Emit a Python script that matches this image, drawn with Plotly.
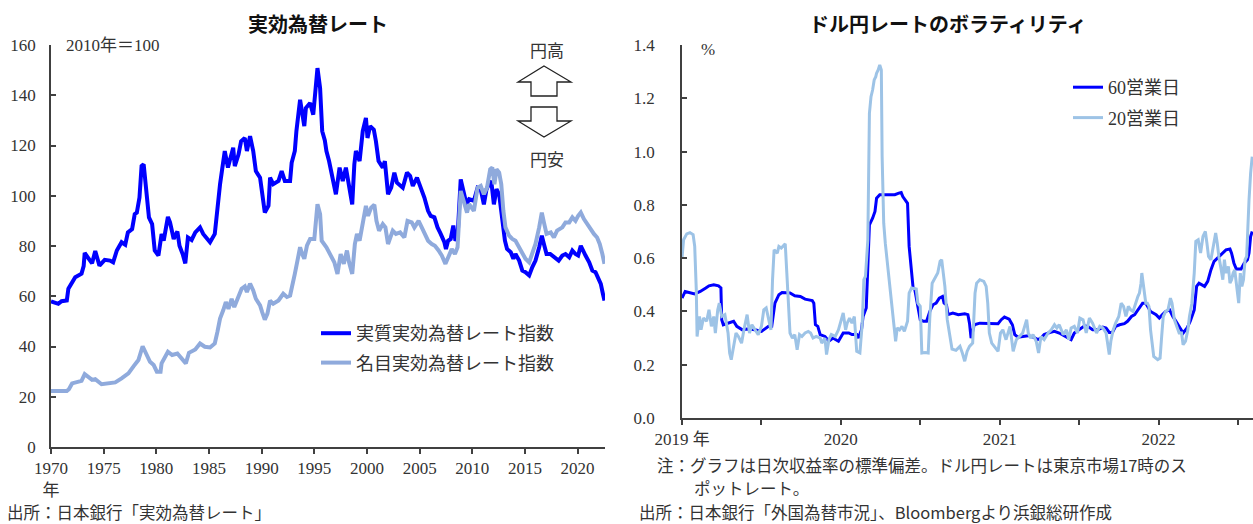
import plotly.graph_objects as go

# ---- 実効為替レート (2010年=100), dates as decimal years ----
reer_year = [1970.0, 1970.4, 1970.7, 1971.0, 1971.5, 1971.65, 1972.0, 1972.3, 1972.9, 1973.1,
             1973.2, 1973.55, 1973.9, 1974.2, 1974.6, 1975.1, 1975.6, 1975.9, 1976.25, 1976.7,
             1977.05, 1977.3, 1977.7, 1977.95, 1978.15, 1978.4, 1978.6, 1978.8, 1979.0, 1979.3,
             1979.6, 1979.85, 1980.2, 1980.5, 1980.7, 1981.1, 1981.3, 1981.65, 1982.0, 1982.2,
             1982.5, 1982.75, 1983.0, 1983.35, 1983.7, 1984.15, 1984.45, 1984.8, 1985.1, 1985.55,
             1985.8, 1986.05, 1986.25, 1986.5, 1986.8, 1987.1, 1987.3, 1987.45, 1987.8, 1988.05,
             1988.4, 1988.6, 1988.9, 1989.2, 1989.45, 1989.85, 1990.05, 1990.3, 1990.65, 1990.8,
             1991.1, 1991.6, 1991.9, 1992.2, 1992.7, 1992.85, 1993.15, 1993.3, 1993.65, 1993.85,
             1994.05, 1994.2, 1994.6, 1994.9, 1995.1, 1995.3, 1995.55, 1995.75, 1996.0, 1996.15,
             1996.4, 1996.75, 1997.05, 1997.4, 1997.7, 1998.0, 1998.3, 1998.6, 1998.8, 1998.95,
             1999.3, 1999.6, 1999.9, 2000.05, 2000.3, 2000.65, 2000.85, 2001.1, 2001.5, 2001.7,
             2002.0, 2002.3, 2002.6, 2002.85, 2003.4, 2003.8, 2004.1, 2004.35, 2004.75, 2005.1,
             2005.45, 2005.8, 2006.05, 2006.4, 2006.7, 2007.0, 2007.35, 2007.5, 2007.7, 2007.95,
             2008.2, 2008.4, 2008.6, 2008.9, 2009.2, 2009.45, 2009.7, 2010.15, 2010.5, 2010.8,
             2011.1, 2011.35, 2011.6, 2011.8, 2012.05, 2012.3, 2012.55, 2012.75, 2012.95, 2013.1,
             2013.3, 2013.65, 2013.9, 2014.1, 2014.45, 2014.75, 2015.05, 2015.4, 2015.7, 2016.0,
             2016.35, 2016.6, 2016.8, 2017.05, 2017.4, 2017.75, 2018.2, 2018.55, 2018.85, 2019.2,
             2019.5, 2019.8, 2020.05, 2020.3, 2020.55, 2020.75, 2021.1, 2021.4, 2021.7, 2021.95,
             2022.2, 2022.4, 2022.55]
reer_real = [58.0, 57.5, 57.0, 58.0, 58.3, 63.0, 65.6, 67.6, 69.0, 72.0,
             77.2, 74.9, 73.1, 78.0, 72.2, 74.5, 74.2, 73.5, 78.2, 81.5,
             80.5, 85.4, 86.7, 92.7, 93.3, 99.3, 111.8, 112.5, 104.6, 91.4,
             88.7, 78.2, 76.2, 84.8, 82.1, 91.6, 89.4, 82.8, 85.8, 80.1,
             76.8, 73.1, 83.4, 82.4, 85.4, 87.4, 84.8, 82.8, 81.5, 84.8,
             96.0, 104.6, 110.5, 117.8, 111.2, 115.8, 119.1, 111.8, 116.4, 121.7,
             123.0, 117.8, 123.7, 117.8, 109.8, 107.2, 100.6, 93.3, 96.0, 107.2,
             104.6, 105.9, 109.8, 105.9, 105.9, 113.1, 117.8, 125.7, 138.2, 132.3,
             127.7, 134.9, 136.9, 132.3, 142.8, 150.8, 142.8, 125.7, 122.0, 117.8,
             113.8, 107.2, 100.6, 111.2, 105.9, 111.2, 104.6, 96.6, 112.5, 117.8,
             113.8, 125.7, 131.0, 123.0, 127.7, 126.3, 121.7, 113.8, 111.2, 113.8,
             100.6, 103.2, 109.2, 105.2, 103.2, 109.2, 107.9, 103.9, 107.2, 103.2,
             99.3, 94.0, 92.0, 91.4, 87.4, 84.8, 81.5, 78.8, 82.1, 82.8,
             88.1, 82.1, 83.4, 106.5, 101.0, 96.6, 98.6, 98.0, 103.2, 102.6,
             96.6, 102.6, 104.6, 105.9, 96.6, 102.6, 100.6, 94.0, 88.1, 82.1,
             78.8, 77.5, 74.9, 76.8, 74.2, 70.2, 69.6, 68.3, 71.6, 74.2,
             79.5, 84.1, 80.8, 76.8, 76.8, 75.5, 74.2, 76.2, 76.8, 75.5,
             78.2, 76.8, 76.2, 80.1, 77.5, 76.2, 73.5, 70.2, 69.6, 67.6,
             64.9, 61.0, 58.3]

neer_year = [1970.0, 1971.5, 1971.7, 1972.0, 1972.9, 1973.2, 1973.9, 1974.2, 1974.8, 1975.8,
             1976.1, 1976.7, 1977.35, 1977.85, 1978.3, 1978.7, 1978.95, 1979.4, 1979.75, 1980.05,
             1980.4, 1980.5, 1981.1, 1981.5, 1982.0, 1982.3, 1982.8, 1983.1, 1983.7, 1984.15,
             1984.6, 1985.1, 1985.55, 1985.8, 1986.05, 1986.35, 1986.6, 1986.85, 1987.15, 1987.4,
             1987.8, 1988.1, 1988.4, 1988.6, 1988.9, 1989.2, 1989.45, 1989.85, 1990.05, 1990.3,
             1990.55, 1990.8, 1991.1, 1991.6, 1992.05, 1992.4, 1992.7, 1992.9, 1993.15, 1993.4,
             1993.65, 1993.85, 1994.05, 1994.3, 1994.6, 1995.0, 1995.3, 1995.55, 1995.7, 1996.15,
             1996.5, 1996.9, 1997.2, 1997.5, 1997.8, 1998.1, 1998.3, 1998.6, 1998.85, 1999.05,
             1999.3, 1999.7, 1999.9, 2000.1, 2000.4, 2000.7, 2000.9, 2001.15, 2001.5, 2001.75,
             2002.0, 2002.45, 2002.75, 2003.15, 2003.55, 2003.85, 2004.25, 2004.5, 2004.9, 2005.2,
             2005.5, 2005.8, 2006.15, 2006.45, 2006.8, 2007.1, 2007.45, 2007.7, 2008.05, 2008.35,
             2008.6, 2008.9, 2009.2, 2009.5, 2009.7, 2010.15, 2010.5, 2010.8, 2011.1, 2011.4,
             2011.7, 2011.9, 2012.1, 2012.3, 2012.55, 2012.75, 2012.95, 2013.15, 2013.5, 2013.8,
             2014.1, 2014.45, 2014.75, 2015.05, 2015.4, 2015.7, 2016.0, 2016.35, 2016.6, 2016.8,
             2017.05, 2017.45, 2017.75, 2018.05, 2018.55, 2018.85, 2019.2, 2019.5, 2019.8, 2020.05,
             2020.3, 2020.6, 2020.9, 2021.25, 2021.55, 2021.85, 2022.1, 2022.35, 2022.55]
reer_nominal = [22.3, 22.3, 23.0, 25.3, 26.3, 29.0, 26.7, 27.0, 25.0, 25.3,
                25.7, 27.3, 29.3, 32.2, 34.6, 40.1, 37.9, 33.9, 32.6, 30.0,
                30.0, 33.3, 37.9, 36.6, 37.2, 35.9, 33.3, 37.5, 38.8, 41.2,
                39.9, 39.6, 41.2, 45.8, 51.1, 54.4, 57.7, 55.0, 59.0, 55.7,
                59.7, 63.0, 63.9, 61.7, 65.0, 62.3, 59.0, 56.4, 53.7, 50.7,
                53.1, 58.3, 57.0, 58.3, 61.0, 59.7, 60.3, 65.0, 68.9, 74.2,
                79.5, 76.8, 74.9, 80.1, 82.8, 82.8, 96.6, 92.7, 82.1, 79.5,
                76.8, 73.5, 68.9, 76.8, 72.9, 78.2, 73.5, 68.9, 80.8, 84.8,
                82.1, 91.4, 96.0, 92.0, 95.3, 96.4, 90.0, 86.1, 88.7, 87.4,
                80.8, 86.1, 84.8, 85.4, 83.4, 90.0, 89.4, 87.4, 90.0, 87.4,
                84.8, 82.1, 80.8, 80.1, 78.2, 76.2, 72.9, 75.5, 78.8, 76.8,
                79.5, 101.9, 98.0, 93.3, 96.6, 94.0, 103.2, 103.9, 100.6, 103.2,
                110.5, 111.2, 104.6, 110.5, 109.2, 104.6, 94.0, 87.4, 84.1, 82.8,
                82.1, 79.5, 76.8, 74.9, 73.5, 76.8, 80.8, 87.4, 93.3, 89.4,
                84.8, 85.4, 83.4, 86.1, 87.4, 89.4, 89.4, 91.4, 90.0, 92.0,
                93.3, 90.7, 88.7, 86.1, 84.8, 83.4, 80.8, 76.8, 72.9]

# ---- ドル円ボラティリティ (%), dates as decimal years ----
vol60_date = [2019.0, 2019.02, 2019.08, 2019.115, 2019.15, 2019.17, 2019.2, 2019.23, 2019.245, 2019.25,
              2019.26, 2019.29, 2019.325, 2019.345, 2019.38, 2019.41, 2019.46, 2019.5, 2019.545, 2019.565,
              2019.585, 2019.61, 2019.63, 2019.68, 2019.71, 2019.745, 2019.775, 2019.82, 2019.83, 2019.84,
              2019.855, 2019.87, 2019.9, 2019.925, 2019.95, 2019.985, 2020.015, 2020.05, 2020.07, 2020.1,
              2020.11, 2020.13, 2020.14, 2020.16, 2020.17, 2020.18, 2020.2, 2020.215, 2020.225, 2020.245,
              2020.3, 2020.34, 2020.365, 2020.38, 2020.39, 2020.41, 2020.42, 2020.43, 2020.445, 2020.455,
              2020.465, 2020.485, 2020.5, 2020.52, 2020.54, 2020.56, 2020.58, 2020.6, 2020.62, 2020.64,
              2020.65, 2020.665, 2020.675, 2020.705, 2020.74, 2020.78, 2020.8, 2020.81, 2020.82, 2020.83,
              2020.84, 2020.875, 2020.92, 2020.96, 2020.99, 2021.01, 2021.03, 2021.06, 2021.08, 2021.095,
              2021.115, 2021.145, 2021.18, 2021.21, 2021.24, 2021.26, 2021.28, 2021.315, 2021.345, 2021.375,
              2021.42, 2021.45, 2021.47, 2021.5, 2021.535, 2021.555, 2021.585, 2021.62, 2021.65, 2021.67,
              2021.69, 2021.71, 2021.73, 2021.755, 2021.785, 2021.805, 2021.83, 2021.85, 2021.88, 2021.9,
              2021.92, 2021.93, 2021.95, 2021.985, 2022.005, 2022.025, 2022.045, 2022.07, 2022.09, 2022.11,
              2022.13, 2022.155, 2022.18, 2022.2, 2022.225, 2022.24, 2022.255, 2022.29, 2022.31, 2022.33,
              2022.35, 2022.38, 2022.4, 2022.425, 2022.45, 2022.46, 2022.475, 2022.49, 2022.52, 2022.54,
              2022.56, 2022.57, 2022.58, 2022.59]
vol60 = [0.45, 0.475, 0.466, 0.475, 0.488, 0.496, 0.50, 0.496, 0.488, 0.369,
         0.35, 0.356, 0.363, 0.344, 0.331, 0.334, 0.331, 0.325, 0.344, 0.344,
         0.431, 0.463, 0.471, 0.469, 0.459, 0.456, 0.446, 0.441, 0.431, 0.35,
         0.344, 0.313, 0.306, 0.288, 0.30, 0.288, 0.319, 0.319, 0.313, 0.313,
         0.30, 0.331, 0.381, 0.413, 0.544, 0.725, 0.75, 0.775, 0.825, 0.838,
         0.838, 0.838, 0.844, 0.846, 0.831, 0.813, 0.806, 0.644, 0.544, 0.488,
         0.484, 0.419, 0.369, 0.363, 0.363, 0.40, 0.425, 0.431, 0.45, 0.456,
         0.431, 0.425, 0.388, 0.394, 0.388, 0.391, 0.388, 0.356, 0.30, 0.325,
         0.35, 0.356, 0.356, 0.354, 0.354, 0.369, 0.379, 0.371, 0.35, 0.313,
         0.303, 0.306, 0.309, 0.304, 0.294, 0.30, 0.313, 0.321, 0.325, 0.319,
         0.304, 0.294, 0.319, 0.331, 0.346, 0.344, 0.331, 0.331, 0.341, 0.338,
         0.321, 0.321, 0.344, 0.35, 0.354, 0.363, 0.381, 0.388, 0.413, 0.431,
         0.431, 0.419, 0.40, 0.388, 0.375, 0.388, 0.40, 0.406, 0.381, 0.363,
         0.344, 0.319, 0.338, 0.363, 0.406, 0.494, 0.506, 0.494, 0.513, 0.556,
         0.588, 0.606, 0.619, 0.631, 0.634, 0.619, 0.581, 0.559, 0.559, 0.581,
         0.594, 0.619, 0.681, 0.70]

vol20_date = [2019.0, 2019.01, 2019.03, 2019.05, 2019.07, 2019.08, 2019.09, 2019.095, 2019.11, 2019.12,
              2019.135, 2019.155, 2019.17, 2019.185, 2019.2, 2019.21, 2019.225, 2019.235, 2019.25, 2019.27,
              2019.29, 2019.3, 2019.31, 2019.325, 2019.34, 2019.355, 2019.375, 2019.39, 2019.41, 2019.425,
              2019.44, 2019.46, 2019.48, 2019.5, 2019.515, 2019.53, 2019.545, 2019.56, 2019.57, 2019.58,
              2019.6, 2019.61, 2019.625, 2019.64, 2019.65, 2019.66, 2019.67, 2019.68, 2019.695, 2019.71,
              2019.725, 2019.74, 2019.755, 2019.775, 2019.795, 2019.81, 2019.825, 2019.845, 2019.87, 2019.88,
              2019.9, 2019.91, 2019.925, 2019.94, 2019.965, 2019.985, 2020.0, 2020.015, 2020.03, 2020.04,
              2020.055, 2020.07, 2020.085, 2020.1, 2020.12, 2020.135, 2020.145, 2020.155, 2020.17, 2020.175,
              2020.18, 2020.19, 2020.2, 2020.21, 2020.22, 2020.225, 2020.235, 2020.245, 2020.255, 2020.26,
              2020.265, 2020.27, 2020.28, 2020.3, 2020.315, 2020.33, 2020.345, 2020.355, 2020.37, 2020.385,
              2020.4, 2020.42, 2020.43, 2020.445, 2020.475, 2020.485, 2020.5, 2020.51, 2020.53, 2020.55,
              2020.56, 2020.575, 2020.59, 2020.61, 2020.625, 2020.635, 2020.645, 2020.655, 2020.67, 2020.685,
              2020.7, 2020.725, 2020.75, 2020.765, 2020.78, 2020.795, 2020.81, 2020.83, 2020.845, 2020.855,
              2020.875, 2020.9, 2020.915, 2020.925, 2020.935, 2020.95, 2020.97, 2020.99, 2021.005, 2021.02,
              2021.04, 2021.065, 2021.085, 2021.105, 2021.125, 2021.145, 2021.17, 2021.18, 2021.195, 2021.21,
              2021.23, 2021.245, 2021.26, 2021.28, 2021.305, 2021.325, 2021.345, 2021.36, 2021.375, 2021.4,
              2021.42, 2021.435, 2021.45, 2021.47, 2021.49, 2021.505, 2021.525, 2021.545, 2021.565, 2021.585,
              2021.61, 2021.63, 2021.65, 2021.67, 2021.69, 2021.7, 2021.715, 2021.73, 2021.75, 2021.765,
              2021.78, 2021.795, 2021.81, 2021.825, 2021.84, 2021.855, 2021.87, 2021.88, 2021.89, 2021.895,
              2021.905, 2021.92, 2021.93, 2021.94, 2021.95, 2021.96, 2021.97, 2021.995, 2022.01, 2022.02,
              2022.03, 2022.045, 2022.06, 2022.075, 2022.085, 2022.1, 2022.115, 2022.13, 2022.145, 2022.155,
              2022.17, 2022.185, 2022.195, 2022.21, 2022.225, 2022.235, 2022.25, 2022.265, 2022.28, 2022.295,
              2022.305, 2022.315, 2022.33, 2022.345, 2022.36, 2022.37, 2022.38, 2022.395, 2022.405, 2022.415,
              2022.425, 2022.44, 2022.45, 2022.46, 2022.47, 2022.48, 2022.495, 2022.505, 2022.515, 2022.525,
              2022.535, 2022.545, 2022.555, 2022.565, 2022.57, 2022.58, 2022.59]
vol20 = [0.60, 0.669, 0.691, 0.696, 0.688, 0.644, 0.481, 0.306, 0.381, 0.331,
         0.375, 0.363, 0.406, 0.344, 0.381, 0.319, 0.406, 0.431, 0.381, 0.388,
         0.319, 0.244, 0.219, 0.263, 0.319, 0.306, 0.281, 0.331, 0.388, 0.319,
         0.35, 0.331, 0.313, 0.344, 0.406, 0.413, 0.375, 0.331, 0.519, 0.631,
         0.619, 0.644, 0.638, 0.65, 0.654, 0.544, 0.431, 0.319, 0.30, 0.313,
         0.256, 0.313, 0.306, 0.319, 0.325, 0.319, 0.30, 0.306, 0.30, 0.281,
         0.30, 0.238, 0.294, 0.313, 0.306, 0.331, 0.363, 0.394, 0.331, 0.356,
         0.375, 0.356, 0.381, 0.25, 0.244, 0.356, 0.519, 0.531, 0.669, 0.856,
         1.144, 1.206, 1.231, 1.269, 1.281, 1.294, 1.306, 1.325, 1.306, 0.981,
         0.869, 0.731, 0.656, 0.544, 0.444, 0.381, 0.288, 0.338, 0.331, 0.344,
         0.325, 0.363, 0.469, 0.488, 0.484, 0.431, 0.419, 0.244, 0.246, 0.244,
         0.375, 0.506, 0.525, 0.544, 0.588, 0.594, 0.544, 0.494, 0.369, 0.319,
         0.259, 0.254, 0.269, 0.244, 0.213, 0.25, 0.269, 0.281, 0.469, 0.506,
         0.519, 0.513, 0.494, 0.431, 0.319, 0.281, 0.263, 0.25, 0.319, 0.331,
         0.294, 0.344, 0.25, 0.294, 0.306, 0.319, 0.369, 0.319, 0.30, 0.313,
         0.288, 0.244, 0.306, 0.294, 0.319, 0.331, 0.35, 0.338, 0.35, 0.313,
         0.331, 0.294, 0.338, 0.344, 0.319, 0.375, 0.369, 0.319, 0.375, 0.356,
         0.319, 0.344, 0.338, 0.319, 0.238, 0.288, 0.331, 0.356, 0.381, 0.431,
         0.419, 0.381, 0.419, 0.406, 0.40, 0.431, 0.456, 0.469, 0.506, 0.544,
         0.494, 0.431, 0.431, 0.419, 0.331, 0.269, 0.231, 0.219, 0.225, 0.306,
         0.381, 0.40, 0.406, 0.45, 0.431, 0.369, 0.344, 0.319, 0.319, 0.275,
         0.288, 0.331, 0.381, 0.431, 0.544, 0.663, 0.669, 0.619, 0.681, 0.70,
         0.656, 0.606, 0.594, 0.644, 0.694, 0.656, 0.606, 0.556, 0.519, 0.594,
         0.544, 0.569, 0.506, 0.519, 0.544, 0.556, 0.469, 0.431, 0.544, 0.494,
         0.519, 0.594, 0.606, 0.769, 0.819, 0.919, 0.981]

# ---- axis ticks ----
left_xtick_vals = [1970, 1975, 1980, 1985, 1990, 1995, 2000, 2005, 2010, 2015, 2020]
left_xtick_text = ["1970<br>年", "1975", "1980", "1985", "1990", "1995", "2000",
                   "2005", "2010", "2015", "2020"]
right_xtick_vals = [2019, 2019.5, 2020, 2020.5, 2021, 2021.5, 2022, 2022.5]
right_xtick_text = ["2019 年", "", "2020", "", "2021", "", "2022", ""]
right_ytick_vals = [0.0, 0.2, 0.4, 0.6, 0.8, 1.0, 1.2, 1.4]
right_ytick_text = ["0.0", "0.2", "0.4", "0.6", "0.8", "1.0", "1.2", "1.4"]

W, H = 1253, 524
AXIS = "#404040"
TXT = "#333333"
SERIF = "Liberation Serif, Noto Sans CJK JP"
JP = "Noto Sans CJK JP"


def px(x):
    return x / W


def py(y):
    return 1 - y / H


fig = go.Figure()

fig.add_trace(go.Scatter(x=reer_year, y=reer_real, mode="lines", name="実質実効為替レート指数",
                         line=dict(color="#0000FF", width=4), xaxis="x", yaxis="y",
                         legend="legend", legendgroup="a"))
fig.add_trace(go.Scatter(x=neer_year, y=reer_nominal, mode="lines", name="名目実効為替レート指数",
                         line=dict(color="#8FAADC", width=4), xaxis="x", yaxis="y",
                         legend="legend", legendgroup="b"))
fig.add_trace(go.Scatter(x=vol60_date, y=vol60, mode="lines", name="60営業日",
                         line=dict(color="#0000FF", width=3), xaxis="x2", yaxis="y2",
                         legend="legend2", legendgroup="c"))
fig.add_trace(go.Scatter(x=vol20_date, y=vol20, mode="lines", name="20営業日",
                         line=dict(color="#9DC3E6", width=3), xaxis="x2", yaxis="y2",
                         legend="legend2", legendgroup="d"))

axis_common = dict(showline=True, linecolor=AXIS, linewidth=1.5, showgrid=False, zeroline=False,
                   ticks="outside", ticklen=5, tickwidth=1.5, tickcolor=AXIS, automargin=False,
                   tickfont=dict(family=SERIF, size=17, color=TXT), fixedrange=True)

fig.update_layout(
    width=W, height=H, autosize=False,
    margin=dict(l=0, r=0, t=0, b=0, autoexpand=False),
    paper_bgcolor="white", plot_bgcolor="white",
    showlegend=True,
    xaxis=dict(axis_common, domain=[px(51), px(605)], range=[1970, 2022.6],
               tickmode="array", tickvals=left_xtick_vals, ticktext=left_xtick_text, anchor="y"),
    yaxis=dict(axis_common, domain=[py(447), py(45)], range=[0, 160], dtick=20, anchor="x",
               ticks="inside", ticklabelstandoff=10),
    xaxis2=dict(axis_common, domain=[px(682), 1.0], range=[2019, 2022.595],
                tickmode="array", tickvals=right_xtick_vals, ticktext=right_xtick_text, anchor="y2"),
    yaxis2=dict(axis_common, domain=[py(418), py(45)], range=[0, 1.4], anchor="x2",
                tickmode="array", tickvals=right_ytick_vals, ticktext=right_ytick_text,
                ticks="inside", ticklabelstandoff=22),
    legend=dict(x=px(316), y=py(315), xanchor="left", yanchor="top", bgcolor="rgba(0,0,0,0)",
                font=dict(family=JP, size=18, color=TXT), tracegroupgap=3, itemwidth=30),
    legend2=dict(x=px(1068), y=py(69), xanchor="left", yanchor="top", bgcolor="rgba(0,0,0,0)",
                 font=dict(family=SERIF, size=18, color=TXT), tracegroupgap=4, itemwidth=30),
)

annotations = [
    dict(text="<b>実効為替レート</b>", x=px(318), y=py(24), font=dict(family=JP, size=20, color="#111")),
    dict(text="<b>ドル円レートのボラティリティ</b>", x=px(948), y=py(24), font=dict(family=JP, size=20, color="#111")),
    dict(text="2010年＝100", x=px(65), y=py(46), xanchor="left", font=dict(family=SERIF, size=17, color=TXT)),
    dict(text="円高", x=px(547), y=py(50), font=dict(family=JP, size=17, color=TXT)),
    dict(text="円安", x=px(547), y=py(158), font=dict(family=JP, size=17, color=TXT)),
    dict(text="%", x=px(708), y=py(50), font=dict(family=SERIF, size=17, color=TXT)),
    dict(text="出所：日本銀行「実効為替レート」", x=px(6), y=py(512), xanchor="left",
         font=dict(family=JP, size=16.5, color=TXT)),
    dict(text="注：グラフは日次収益率の標準偏差。ドル円レートは東京市場17時のス", x=px(656), y=py(465),
         xanchor="left", font=dict(family=JP, size=16.5, color=TXT)),
    dict(text="ポットレート。", x=px(693), y=py(488), xanchor="left", font=dict(family=JP, size=16.5, color=TXT)),
    dict(text="出所：日本銀行「外国為替市況」、Bloombergより浜銀総研作成", x=px(638), y=py(512),
         xanchor="left", font=dict(family=JP, size=16.5, color=TXT)),
]
for a in annotations:
    a.setdefault("xanchor", "center")
    fig.add_annotation(xref="paper", yref="paper", showarrow=False, yanchor="middle", borderpad=0, **a)


# Block arrows beside the left panel (up = 円高, down = 円安)
def path(points):
    return "M " + " L ".join(f"{px(x):.5f},{py(y):.5f}" for x, y in points) + " Z"


up_arrow = [(544, 66), (571, 82), (557, 82), (557, 96), (531, 96), (531, 82), (518, 82)]
down_arrow = [(531, 107), (557, 107), (557, 121), (571, 121), (544, 137), (518, 121), (531, 121)]
for pts in (up_arrow, down_arrow):
    fig.add_shape(type="path", path=path(pts), xref="paper", yref="paper",
                  line=dict(color="#222", width=1.3), fillcolor="white")

fig.write_html("out.html")
